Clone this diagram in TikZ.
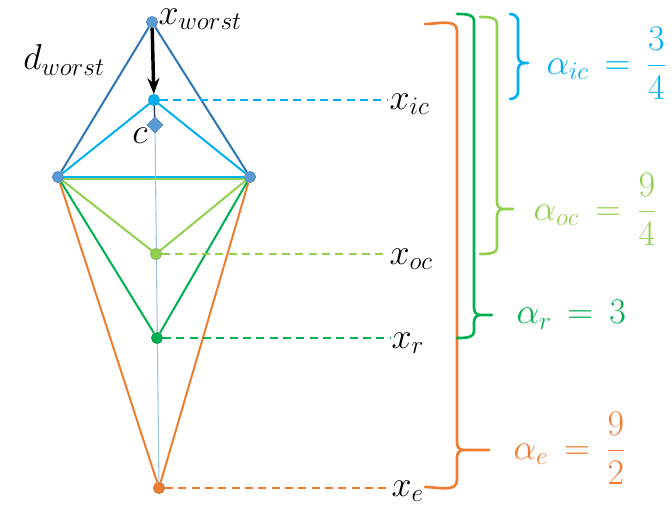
\documentclass[tikz,border=0pt]{standalone}
\usepackage{amsmath}
\usepackage{fix-cm}
\usetikzlibrary{arrows.meta,shapes.geometric,backgrounds}
\definecolor{optDark}{HTML}{2E75B6}
\definecolor{optPoint}{HTML}{5B9BD5}
\definecolor{optIC}{HTML}{00B0F0}
\definecolor{optOC}{HTML}{92D050}
\definecolor{optR}{HTML}{00B050}
\definecolor{optE}{HTML}{ED7D31}
\definecolor{optAxis}{HTML}{9DC3E6}
\definecolor{optNavy}{HTML}{1F3864}

% brace: colour, x of ends, x of bar, y top, y tip, y bottom, x of tip
\newcommand{\ratiobrace}[7]{%
  \draw[bracefg,#1] (#2,#4) to[out=0,in=90] (#3,#4+7) -- (#3,#5-7)
    to[out=-90,in=180] (#3+6,#5) -- (#7,#5);
  \draw[bracefg,#1] (#3+6,#5) to[out=180,in=90] (#3,#5+7) -- (#3,#6-7)
    to[out=-90,in=0] (#2,#6);}

\begin{document}
\begin{tikzpicture}[x=0.75pt,y=-0.75pt,font=\fontsize{27}{32}\selectfont,
    vertex/.style={circle,fill=#1,draw=#1!80!black,line width=0.4pt,
                   inner sep=0pt,minimum size=8.5pt},
    side/.style={line width=1.5pt},
    guide/.style={line width=1.1pt,dash pattern=on 6pt off 4pt},
    bracefg/.style={line width=2pt,line cap=round},
    lbl/.style={inner sep=1pt}]
  \useasboundingbox (0,0) rectangle (672,511);

  % points
  \node[vertex=optPoint] (xw) at (152,22) {};
  \node[vertex=optPoint] (vl) at (58,177) {};
  \node[vertex=optPoint] (vr) at (250,177) {};
  \node[vertex=optIC] (xic) at (154,100) {};
  \node[diamond,fill=optPoint,draw=optPoint!80!black,line width=0.4pt,
        inner sep=0pt,minimum size=12pt] (cc) at (155,125) {};
  \node[vertex=optOC] (xoc) at (156,254) {};
  \node[vertex=optR] (xr) at (157,338) {};
  \node[vertex=optE] (xe) at (159,488) {};

  % triangles
  \begin{scope}[on background layer]
    \draw[side,optE] (vl) -- (xe) -- (vr);
    \draw[side,optR] (vl) -- (xr) -- (vr);
    \draw[side,optOC] (vl) -- (xoc) -- (vr);
    \draw[side,optOC] ([yshift=-1.3pt]vl.center) -- ([yshift=-1.3pt]vr.center);
    \draw[side,optIC] (vl) -- (xic) -- (vr);
    \draw[side,optIC] (vl) -- (vr);
    \draw[side,optDark] (vl) -- (xw) -- (vr);
    \draw[optAxis,line width=0.8pt] (cc) -- (xe);
    \draw[optNavy,line width=1pt] (xic) -- (cc);
  \end{scope}
  \draw[line width=2.6pt,-{Stealth[length=12pt,width=9pt]}] (xw) -- (xic);

  % labels
  \node[lbl,anchor=base west] (lw) at (157,24) {$x_{worst}$};
  \node[lbl] (ld) at (64,60) {$d_{worst}$};
  \node[lbl] (lc) at (140,136) {$c$};
  \node[lbl,anchor=west] (lic) at (388,104) {$x_{ic}$};
  \node[lbl,anchor=west] (loc) at (388,259) {$x_{oc}$};
  \node[lbl,anchor=west] (lr) at (390,343) {$x_{r}$};
  \node[lbl,anchor=west] (le) at (390,491) {$x_{e}$};

  \draw[guide,optIC] (xic) -- (xic -| lic.west);
  \draw[guide,optOC] (xoc) -- (xoc -| loc.west);
  \draw[guide,optR] (xr) -- (xr -| lr.west);
  \draw[guide,optE] (xe) -- (xe -| le.west);

  % braces
  \ratiobrace{optE}{425}{457}{24}{450}{487}{489}
  \ratiobrace{optR}{457}{474}{14}{315}{338}{492}
  \ratiobrace{optOC}{480}{497}{17}{209}{254}{513}
  \ratiobrace{optIC}{510}{518}{14}{63}{99}{528}

  \node[lbl,anchor=west,text=optIC] (aic) at (545,63) {$\alpha_{ic}\,=\,\dfrac{3}{4}$};
  \node[lbl,anchor=west,text=optOC] (aoc) at (532,209) {$\alpha_{oc}\,=\,\dfrac{9}{4}$};
  \node[lbl,anchor=west,text=optR] (ar) at (515,315) {$\alpha_{r}\,=\,3$};
  \node[lbl,anchor=west,text=optE] (ae) at (512,448) {$\alpha_{e}\,=\,\dfrac{9}{2}$};
\end{tikzpicture}
\end{document}
